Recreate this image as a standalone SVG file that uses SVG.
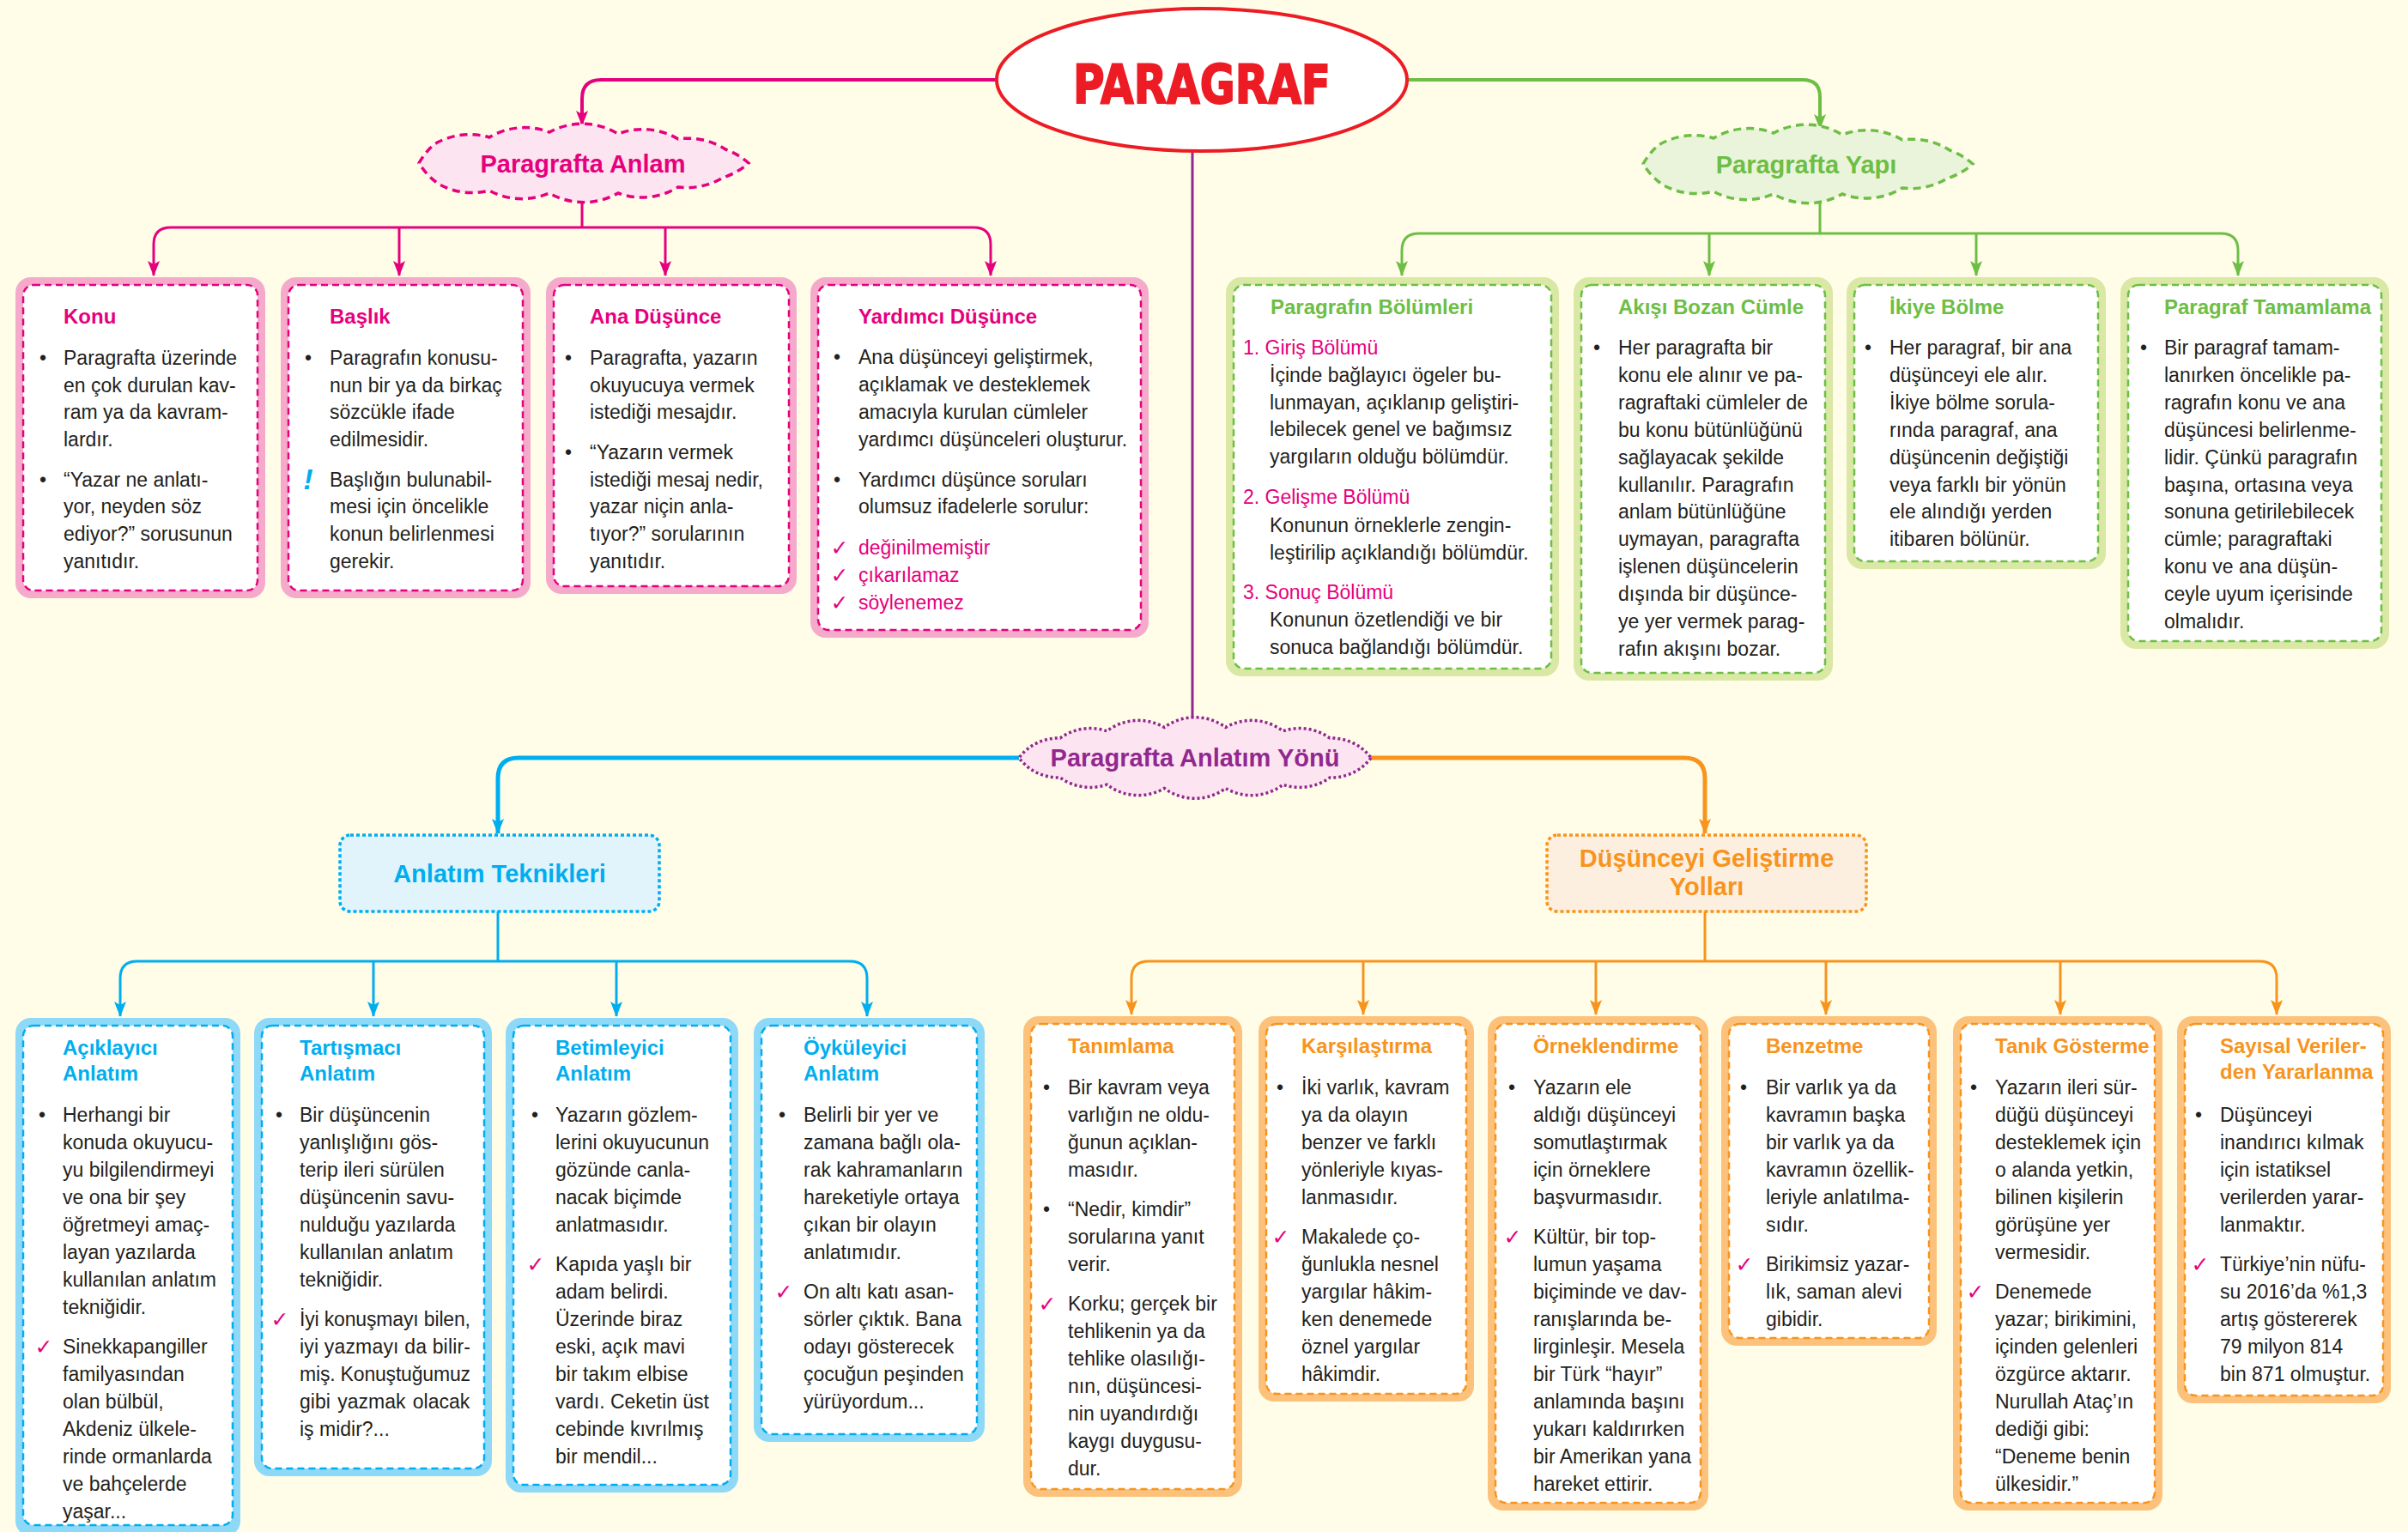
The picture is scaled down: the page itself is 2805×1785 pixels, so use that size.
<svg xmlns="http://www.w3.org/2000/svg" xmlns:xlink="http://www.w3.org/1999/xlink" width="2805" height="1785" viewBox="0 0 2805 1785">
<style>
.t{font-family:"Liberation Sans",Arial,Helvetica,sans-serif;font-size:23px;fill:#231F20}
.h{font-family:"Liberation Sans",Arial,Helvetica,sans-serif;font-size:24px;font-weight:bold}
.bu{text-anchor:middle}
.ck{font-family:"DejaVu Sans",sans-serif;font-size:25px;fill:#E6007E;text-anchor:middle}
.pk{fill:#E6007E}.gr{fill:#6DBE45}.bl{fill:#00AEEF}.or{fill:#F7941D}.pu{fill:#92278F}
.po{fill:#F5AACB}.go{fill:#D9E8A5}.bo{fill:#8ED8F8}.oo{fill:#FCC27C}
.pi,.gi,.bi,.oi{fill:#fff;stroke-width:2.5;stroke-dasharray:8 5}
.pi{stroke:#E6007E}.gi{stroke:#6DBE45}.bi{stroke:#00AEEF}.oi{stroke:#F7941D}
.cl{font-family:"Liberation Sans",Arial,Helvetica,sans-serif;font-size:29px;font-weight:bold;text-anchor:middle}
.c{fill:none}
.cp{stroke:#E6007E}.cg{stroke:#6DBE45}.cb{stroke:#00AEEF}.co{stroke:#F7941D}
</style>
<defs>
<marker id="ap" viewBox="0 0 18 14" markerWidth="18" markerHeight="14" refX="17" refY="7" orient="auto" markerUnits="userSpaceOnUse"><path d="M0,0 L18,7 L0,14 L4,7 Z" fill="#E6007E"/></marker>
<marker id="ag" viewBox="0 0 18 14" markerWidth="18" markerHeight="14" refX="17" refY="7" orient="auto" markerUnits="userSpaceOnUse"><path d="M0,0 L18,7 L0,14 L4,7 Z" fill="#6DBE45"/></marker>
<marker id="ab" viewBox="0 0 18 14" markerWidth="18" markerHeight="14" refX="17" refY="7" orient="auto" markerUnits="userSpaceOnUse"><path d="M0,0 L18,7 L0,14 L4,7 Z" fill="#00AEEF"/></marker>
<marker id="ao" viewBox="0 0 18 14" markerWidth="18" markerHeight="14" refX="17" refY="7" orient="auto" markerUnits="userSpaceOnUse"><path d="M0,0 L18,7 L0,14 L4,7 Z" fill="#F7941D"/></marker>
<path id="cloud1" d="M488,190 A80,80 0 0 1 506,168 A80,80 0 0 1 570,160 A80,80 0 0 1 640,154 A80,80 0 0 1 720,156 A80,80 0 0 1 790,162 A80,80 0 0 1 845,174 A80,80 0 0 1 872,190 A80,80 0 0 1 842,207 A80,80 0 0 1 790,218 A80,80 0 0 1 720,225 A80,80 0 0 1 640,225 A80,80 0 0 1 570,222 A80,80 0 0 1 512,215 A80,80 0 0 1 488,190 Z"/>
</defs>
<rect x="0" y="0" width="2805" height="1785" fill="#FFFDE8"/>

<g id="connectors" class="c">
<path class="cp" stroke-width="4" d="M1161,93 H700 Q678,93 678,115 V146" marker-end="url(#ap)"/>
<path class="cp" stroke-width="3" d="M678,226 V265"/>
<path class="cp" stroke-width="3" d="M678,265 H199 Q179,265 179,285 V321" marker-end="url(#ap)"/>
<path class="cp" stroke-width="3" d="M678,265 H1134 Q1154,265 1154,285 V321" marker-end="url(#ap)"/>
<path class="cp" stroke-width="3" d="M465,265 V321" marker-end="url(#ap)"/>
<path class="cp" stroke-width="3" d="M775,265 V321" marker-end="url(#ap)"/>
<path class="cg" stroke-width="4" d="M1639,93 H2100 Q2120,93 2120,113 V150" marker-end="url(#ag)"/>
<path class="cg" stroke-width="3" d="M2120,228 V272"/>
<path class="cg" stroke-width="3" d="M2120,272 H1653 Q1633,272 1633,292 V321" marker-end="url(#ag)"/>
<path class="cg" stroke-width="3" d="M2120,272 H2587 Q2607,272 2607,292 V321" marker-end="url(#ag)"/>
<path class="cg" stroke-width="3" d="M1991,272 V321" marker-end="url(#ag)"/>
<path class="cg" stroke-width="3" d="M2302,272 V321" marker-end="url(#ag)"/>
<path stroke="#92278F" stroke-width="3" d="M1389,176 V838"/>
<path class="cb" stroke-width="5" d="M1187,883 H604 Q580,883 580,907 V971" marker-end="url(#ab)"/>
<path class="cb" stroke-width="3" d="M580,1062 V1120"/>
<path class="cb" stroke-width="3" d="M580,1120 H160 Q140,1120 140,1140 V1184" marker-end="url(#ab)"/>
<path class="cb" stroke-width="3" d="M580,1120 H990 Q1010,1120 1010,1140 V1184" marker-end="url(#ab)"/>
<path class="cb" stroke-width="3" d="M435,1120 V1184" marker-end="url(#ab)"/>
<path class="cb" stroke-width="3" d="M718,1120 V1184" marker-end="url(#ab)"/>
<path class="co" stroke-width="5" d="M1597,883 H1962 Q1986,883 1986,907 V971" marker-end="url(#ao)"/>
<path class="co" stroke-width="3" d="M1986,1062 V1120"/>
<path class="co" stroke-width="3" d="M1986,1120 H1338 Q1318,1120 1318,1140 V1182" marker-end="url(#ao)"/>
<path class="co" stroke-width="3" d="M1986,1120 H2632 Q2652,1120 2652,1140 V1182" marker-end="url(#ao)"/>
<path class="co" stroke-width="3" d="M1588,1120 V1182" marker-end="url(#ao)"/>
<path class="co" stroke-width="3" d="M1859,1120 V1182" marker-end="url(#ao)"/>
<path class="co" stroke-width="3" d="M2127,1120 V1182" marker-end="url(#ao)"/>
<path class="co" stroke-width="3" d="M2400,1120 V1182" marker-end="url(#ao)"/>
</g>

<g id="paragraf">
<ellipse cx="1400" cy="93" rx="239" ry="83" fill="#fff" stroke="#ED1C24" stroke-width="4"/>
<text x="1400" y="120" text-anchor="middle" font-family="DejaVu Sans, sans-serif" font-size="62" font-weight="900" fill="#ED1C24" stroke="#ED1C24" stroke-width="2" textLength="300" lengthAdjust="spacingAndGlyphs">PARAGRAF</text>
</g>

<g id="paragrafta-anlam">
<use xlink:href="#cloud1" href="#cloud1" fill="#FCE4F0" stroke="#E6007E" stroke-width="3.5" stroke-dasharray="9 6"/>
<text class="cl pk" x="679" y="201">Paragrafta Anlam</text>
</g>

<g id="paragrafta-yapi">
<use xlink:href="#cloud1" href="#cloud1" transform="translate(1426,1)" fill="#E9F4DB" stroke="#6DBE45" stroke-width="3.5" stroke-dasharray="9 6"/>
<text class="cl gr" x="2104" y="202">Paragrafta Yapı</text>
</g>

<g id="anlatim-yonu">
<path d="M1597,883 A60,60 0 0 1 1584.7,895.3 A60,60 0 0 1 1549,906.1 A60,60 0 0 1 1494.5,914.2 A60,60 0 0 1 1427.7,918.5 A60,60 0 0 1 1356.3,918.5 A60,60 0 0 1 1289.5,914.2 A60,60 0 0 1 1235,906.1 A60,60 0 0 1 1199.3,895.3 A60,60 0 0 1 1187,883 A60,60 0 0 1 1199.3,870.7 A60,60 0 0 1 1235,859.9 A60,60 0 0 1 1289.5,851.8 A60,60 0 0 1 1356.3,847.5 A60,60 0 0 1 1427.7,847.5 A60,60 0 0 1 1494.5,851.8 A60,60 0 0 1 1549,859.9 A60,60 0 0 1 1584.7,870.7 A60,60 0 0 1 1597,883 Z" fill="#FCE4F1" stroke="#92278F" stroke-width="3.5" stroke-dasharray="3 3"/>
<text class="cl pu" x="1392" y="893">Paragrafta Anlatım Yönü</text>
</g>

<g id="anlatim-teknikleri">
<rect x="396" y="973" width="372" height="89" rx="12" fill="#E1F4FC" stroke="#00AEEF" stroke-width="3.5" stroke-dasharray="4 3"/>
<text class="cl bl" x="582" y="1028" font-size="28">Anlatım Teknikleri</text>
</g>

<g id="dusunceyi-gelistirme">
<rect x="1802" y="973" width="372" height="89" rx="12" fill="#FDEFE0" stroke="#F7941D" stroke-width="3.5" stroke-dasharray="4 3"/>
<text class="cl or" x="1988" y="1010" font-size="28">Düşünceyi Geliştirme</text>
<text class="cl or" x="1988" y="1043" font-size="28">Yolları</text>
</g>

<!-- Pink boxes -->
<g id="konu">
<rect class="po" x="18" y="323" width="291" height="374" rx="18"/>
<rect class="pi" x="27" y="332" width="273" height="356" rx="12"/>
<text class="h pk" x="74" y="377">Konu</text>
<text class="t bu"><tspan x="50" y="425">•</tspan><tspan x="50" y="567">•</tspan></text>
<text class="t"><tspan x="74" y="425">Paragrafta üzerinde</tspan><tspan x="74" y="457">en çok durulan kav-</tspan><tspan x="74" y="488">ram ya da kavram-</tspan><tspan x="74" y="520">lardır.</tspan><tspan x="74" y="567">“Yazar ne anlatı-</tspan><tspan x="74" y="598">yor, neyden söz</tspan><tspan x="74" y="630">ediyor?” sorusunun</tspan><tspan x="74" y="662">yanıtıdır.</tspan></text>
</g>

<g id="baslik">
<rect class="po" x="327" y="323" width="291" height="374" rx="18"/>
<rect class="pi" x="336" y="332" width="273" height="356" rx="12"/>
<text class="h pk" x="384" y="377">Başlık</text>
<text class="t bu"><tspan x="359" y="425">•</tspan></text>
<text x="359" y="570" text-anchor="middle" font-family="Liberation Sans, Arial, sans-serif" font-size="34" font-weight="bold" font-style="italic" fill="#00AEEF">!</text>
<text class="t"><tspan x="384" y="425">Paragrafın konusu-</tspan><tspan x="384" y="457">nun bir ya da birkaç</tspan><tspan x="384" y="488">sözcükle ifade</tspan><tspan x="384" y="520">edilmesidir.</tspan><tspan x="384" y="567">Başlığın bulunabil-</tspan><tspan x="384" y="598">mesi için öncelikle</tspan><tspan x="384" y="630">konun belirlenmesi</tspan><tspan x="384" y="662">gerekir.</tspan></text>
</g>

<g id="ana-dusunce">
<rect class="po" x="636" y="323" width="292" height="369" rx="18"/>
<rect class="pi" x="645" y="332" width="274" height="351" rx="12"/>
<text class="h pk" x="687" y="377">Ana Düşünce</text>
<text class="t bu"><tspan x="662" y="425">•</tspan><tspan x="662" y="535">•</tspan></text>
<text class="t"><tspan x="687" y="425">Paragrafta, yazarın</tspan><tspan x="687" y="457">okuyucuya vermek</tspan><tspan x="687" y="488">istediği mesajdır.</tspan><tspan x="687" y="535">“Yazarın vermek</tspan><tspan x="687" y="567">istediği mesaj nedir,</tspan><tspan x="687" y="598">yazar niçin anla-</tspan><tspan x="687" y="630">tıyor?” sorularının</tspan><tspan x="687" y="662">yanıtıdır.</tspan></text>
</g>

<g id="yardimci-dusunce">
<rect class="po" x="944" y="323" width="394" height="420" rx="18"/>
<rect class="pi" x="953" y="332" width="376" height="402" rx="12"/>
<text class="h pk" x="1000" y="377">Yardımcı Düşünce</text>
<text class="t bu"><tspan x="975" y="424">•</tspan><tspan x="975" y="567">•</tspan></text>
<text class="t"><tspan x="1000" y="424">Ana düşünceyi geliştirmek,</tspan><tspan x="1000" y="456">açıklamak ve desteklemek</tspan><tspan x="1000" y="488">amacıyla kurulan cümleler</tspan><tspan x="1000" y="520">yardımcı düşünceleri oluşturur.</tspan><tspan x="1000" y="567">Yardımcı düşünce soruları</tspan><tspan x="1000" y="598">olumsuz ifadelerle sorulur:</tspan></text>
<text class="ck"><tspan x="978" y="647">✓</tspan><tspan x="978" y="679">✓</tspan><tspan x="978" y="711">✓</tspan></text>
<text class="t pk"><tspan x="1000" y="646">değinilmemiştir</tspan><tspan x="1000" y="678">çıkarılamaz</tspan><tspan x="1000" y="710">söylenemez</tspan></text>
</g>

<!-- Green boxes -->
<g id="paragrafin-bolumleri">
<rect class="go" x="1428" y="323" width="388" height="465" rx="18"/>
<rect class="gi" x="1437" y="332" width="370" height="447" rx="12"/>
<text class="h gr" x="1480" y="366">Paragrafın Bölümleri</text>
<text class="t pk"><tspan x="1448" y="413">1. Giriş Bölümü</tspan><tspan x="1448" y="587">2. Gelişme Bölümü</tspan><tspan x="1448" y="698">3. Sonuç Bölümü</tspan></text>
<text class="t"><tspan x="1479" y="445">İçinde bağlayıcı ögeler bu-</tspan><tspan x="1479" y="477">lunmayan, açıklanıp geliştiri-</tspan><tspan x="1479" y="508">lebilecek genel ve bağımsız</tspan><tspan x="1479" y="540">yargıların olduğu bölümdür.</tspan><tspan x="1479" y="620">Konunun örneklerle zengin-</tspan><tspan x="1479" y="652">leştirilip açıklandığı bölümdür.</tspan><tspan x="1479" y="730">Konunun özetlendiği ve bir</tspan><tspan x="1479" y="762">sonuca bağlandığı bölümdür.</tspan></text>
</g>

<g id="akisi-bozan-cumle">
<rect class="go" x="1833" y="323" width="302" height="470" rx="18"/>
<rect class="gi" x="1842" y="332" width="284" height="452" rx="12"/>
<text class="h gr" x="1885" y="366">Akışı Bozan Cümle</text>
<text class="t bu"><tspan x="1860" y="413">•</tspan></text>
<text class="t"><tspan x="1885" y="413">Her paragrafta bir</tspan><tspan x="1885" y="445">konu ele alınır ve pa-</tspan><tspan x="1885" y="477">ragraftaki cümleler de</tspan><tspan x="1885" y="509">bu konu bütünlüğünü</tspan><tspan x="1885" y="541">sağlayacak şekilde</tspan><tspan x="1885" y="573">kullanılır. Paragrafın</tspan><tspan x="1885" y="604">anlam bütünlüğüne</tspan><tspan x="1885" y="636">uymayan, paragrafta</tspan><tspan x="1885" y="668">işlenen düşüncelerin</tspan><tspan x="1885" y="700">dışında bir düşünce-</tspan><tspan x="1885" y="732">ye yer vermek parag-</tspan><tspan x="1885" y="764">rafın akışını bozar.</tspan></text>
</g>

<g id="ikiye-bolme">
<rect class="go" x="2151" y="323" width="302" height="340" rx="18"/>
<rect class="gi" x="2160" y="332" width="284" height="322" rx="12"/>
<text class="h gr" x="2201" y="366">İkiye Bölme</text>
<text class="t bu"><tspan x="2176" y="413">•</tspan></text>
<text class="t"><tspan x="2201" y="413">Her paragraf, bir ana</tspan><tspan x="2201" y="445">düşünceyi ele alır.</tspan><tspan x="2201" y="477">İkiye bölme sorula-</tspan><tspan x="2201" y="509">rında paragraf, ana</tspan><tspan x="2201" y="541">düşüncenin değiştiği</tspan><tspan x="2201" y="573">veya farklı bir yönün</tspan><tspan x="2201" y="604">ele alındığı yerden</tspan><tspan x="2201" y="636">itibaren bölünür.</tspan></text>
</g>

<g id="paragraf-tamamlama">
<rect class="go" x="2470" y="323" width="313" height="433" rx="18"/>
<rect class="gi" x="2479" y="332" width="295" height="415" rx="12"/>
<text class="h gr" x="2521" y="366">Paragraf Tamamlama</text>
<text class="t bu"><tspan x="2497" y="413">•</tspan></text>
<text class="t"><tspan x="2521" y="413">Bir paragraf tamam-</tspan><tspan x="2521" y="445">lanırken öncelikle pa-</tspan><tspan x="2521" y="477">ragrafın konu ve ana</tspan><tspan x="2521" y="509">düşüncesi belirlenme-</tspan><tspan x="2521" y="541">lidir. Çünkü paragrafın</tspan><tspan x="2521" y="573">başına, ortasına veya</tspan><tspan x="2521" y="604">sonuna getirilebilecek</tspan><tspan x="2521" y="636">cümle; paragraftaki</tspan><tspan x="2521" y="668">konu ve ana düşün-</tspan><tspan x="2521" y="700">ceyle uyum içerisinde</tspan><tspan x="2521" y="732">olmalıdır.</tspan></text>
</g>

<!-- Blue boxes -->
<g id="aciklayici">
<rect class="bo" x="18" y="1186" width="262" height="604" rx="18"/>
<rect class="bi" x="27" y="1195" width="244" height="582" rx="12"/>
<text class="h bl"><tspan x="73" y="1229">Açıklayıcı</tspan><tspan x="73" y="1259">Anlatım</tspan></text>
<text class="t bu"><tspan x="49" y="1307">•</tspan></text>
<text class="ck"><tspan x="51" y="1578">✓</tspan></text>
<text class="t"><tspan x="73" y="1307">Herhangi bir</tspan><tspan x="73" y="1339">konuda okuyucu-</tspan><tspan x="73" y="1371">yu bilgilendirmeyi</tspan><tspan x="73" y="1403">ve ona bir şey</tspan><tspan x="73" y="1435">öğretmeyi amaç-</tspan><tspan x="73" y="1467">layan yazılarda</tspan><tspan x="73" y="1499">kullanılan anlatım</tspan><tspan x="73" y="1531">tekniğidir.</tspan><tspan x="73" y="1577">Sinekkapangiller</tspan><tspan x="73" y="1609">familyasından</tspan><tspan x="73" y="1641">olan bülbül,</tspan><tspan x="73" y="1673">Akdeniz ülkele-</tspan><tspan x="73" y="1705">rinde ormanlarda</tspan><tspan x="73" y="1737">ve bahçelerde</tspan><tspan x="73" y="1769">yaşar...</tspan></text>
</g>

<g id="tartismaci">
<rect class="bo" x="296" y="1186" width="277" height="534" rx="18"/>
<rect class="bi" x="305" y="1195" width="259" height="516" rx="12"/>
<text class="h bl"><tspan x="349" y="1229">Tartışmacı</tspan><tspan x="349" y="1259">Anlatım</tspan></text>
<text class="t bu"><tspan x="325" y="1307">•</tspan></text>
<text class="ck"><tspan x="326" y="1546">✓</tspan></text>
<text class="t"><tspan x="349" y="1307">Bir düşüncenin</tspan><tspan x="349" y="1339">yanlışlığını gös-</tspan><tspan x="349" y="1371">terip ileri sürülen</tspan><tspan x="349" y="1403">düşüncenin savu-</tspan><tspan x="349" y="1435">nulduğu yazılarda</tspan><tspan x="349" y="1467">kullanılan anlatım</tspan><tspan x="349" y="1499">tekniğidir.</tspan></text>
<text class="t"><tspan x="349" y="1545" textLength="199" lengthAdjust="spacing">İyi konuşmayı bilen,</tspan></text>
<text class="t"><tspan x="349" y="1577" textLength="199" lengthAdjust="spacing">iyi yazmayı da bilir-</tspan></text>
<text class="t"><tspan x="349" y="1609" textLength="199" lengthAdjust="spacing">miş. Konuştuğumuz</tspan></text>
<text class="t" word-spacing="2"><tspan x="349" y="1641">gibi yazmak olacak</tspan></text>
<text class="t"><tspan x="349" y="1673">iş midir?...</tspan></text>
</g>

<g id="betimleyici">
<rect class="bo" x="589" y="1186" width="271" height="553" rx="18"/>
<rect class="bi" x="598" y="1195" width="253" height="535" rx="12"/>
<text class="h bl"><tspan x="647" y="1229">Betimleyici</tspan><tspan x="647" y="1259">Anlatım</tspan></text>
<text class="t bu"><tspan x="623" y="1307">•</tspan></text>
<text class="ck"><tspan x="624" y="1482">✓</tspan></text>
<text class="t"><tspan x="647" y="1307">Yazarın gözlem-</tspan><tspan x="647" y="1339">lerini okuyucunun</tspan><tspan x="647" y="1371">gözünde canla-</tspan><tspan x="647" y="1403">nacak biçimde</tspan><tspan x="647" y="1435">anlatmasıdır.</tspan><tspan x="647" y="1481">Kapıda yaşlı bir</tspan><tspan x="647" y="1513">adam belirdi.</tspan><tspan x="647" y="1545">Üzerinde biraz</tspan><tspan x="647" y="1577">eski, açık mavi</tspan><tspan x="647" y="1609">bir takım elbise</tspan><tspan x="647" y="1641">vardı. Ceketin üst</tspan><tspan x="647" y="1673">cebinde kıvrılmış</tspan><tspan x="647" y="1705">bir mendil...</tspan></text>
</g>

<g id="oykuleyici">
<rect class="bo" x="878" y="1186" width="269" height="494" rx="18"/>
<rect class="bi" x="887" y="1195" width="251" height="476" rx="12"/>
<text class="h bl"><tspan x="936" y="1229">Öyküleyici</tspan><tspan x="936" y="1259">Anlatım</tspan></text>
<text class="t bu"><tspan x="911" y="1307">•</tspan></text>
<text class="ck"><tspan x="913" y="1514">✓</tspan></text>
<text class="t"><tspan x="936" y="1307">Belirli bir yer ve</tspan><tspan x="936" y="1339">zamana bağlı ola-</tspan><tspan x="936" y="1371">rak kahramanların</tspan><tspan x="936" y="1403">hareketiyle ortaya</tspan><tspan x="936" y="1435">çıkan bir olayın</tspan><tspan x="936" y="1467">anlatımıdır.</tspan><tspan x="936" y="1513">On altı katı asan-</tspan><tspan x="936" y="1545">sörler çıktık. Bana</tspan><tspan x="936" y="1577">odayı gösterecek</tspan><tspan x="936" y="1609">çocuğun peşinden</tspan><tspan x="936" y="1641">yürüyordum...</tspan></text>
</g>

<!-- Orange boxes -->
<g id="tanimlama">
<rect class="oo" x="1192" y="1184" width="255" height="560" rx="18"/>
<rect class="oi" x="1201" y="1193" width="237" height="542" rx="12"/>
<text class="h or" x="1244" y="1227">Tanımlama</text>
<text class="t bu"><tspan x="1219" y="1275">•</tspan><tspan x="1219" y="1417">•</tspan></text>
<text class="ck"><tspan x="1220" y="1528">✓</tspan></text>
<text class="t"><tspan x="1244" y="1275">Bir kavram veya</tspan><tspan x="1244" y="1307">varlığın ne oldu-</tspan><tspan x="1244" y="1339">ğunun açıklan-</tspan><tspan x="1244" y="1371">masıdır.</tspan><tspan x="1244" y="1417">“Nedir, kimdir”</tspan><tspan x="1244" y="1449">sorularına yanıt</tspan><tspan x="1244" y="1481">verir.</tspan><tspan x="1244" y="1527">Korku; gerçek bir</tspan><tspan x="1244" y="1559">tehlikenin ya da</tspan><tspan x="1244" y="1591">tehlike olasılığı-</tspan><tspan x="1244" y="1623">nın, düşüncesi-</tspan><tspan x="1244" y="1655">nin uyandırdığı</tspan><tspan x="1244" y="1687">kaygı duygusu-</tspan><tspan x="1244" y="1719">dur.</tspan></text>
</g>

<g id="karsilastirma">
<rect class="oo" x="1466" y="1184" width="251" height="449" rx="18"/>
<rect class="oi" x="1475" y="1193" width="233" height="431" rx="12"/>
<text class="h or" x="1516" y="1227">Karşılaştırma</text>
<text class="t bu"><tspan x="1491" y="1275">•</tspan></text>
<text class="ck"><tspan x="1492" y="1450">✓</tspan></text>
<text class="t"><tspan x="1516" y="1275">İki varlık, kavram</tspan><tspan x="1516" y="1307">ya da olayın</tspan><tspan x="1516" y="1339">benzer ve farklı</tspan><tspan x="1516" y="1371">yönleriyle kıyas-</tspan><tspan x="1516" y="1403">lanmasıdır.</tspan><tspan x="1516" y="1449">Makalede ço-</tspan><tspan x="1516" y="1481">ğunlukla nesnel</tspan><tspan x="1516" y="1513">yargılar hâkim-</tspan><tspan x="1516" y="1545">ken denemede</tspan><tspan x="1516" y="1577">öznel yargılar</tspan><tspan x="1516" y="1609">hâkimdir.</tspan></text>
</g>

<g id="orneklendirme">
<rect class="oo" x="1733" y="1184" width="257" height="576" rx="18"/>
<rect class="oi" x="1742" y="1193" width="239" height="558" rx="12"/>
<text class="h or" x="1786" y="1227">Örneklendirme</text>
<text class="t bu"><tspan x="1761" y="1275">•</tspan></text>
<text class="ck"><tspan x="1762" y="1450">✓</tspan></text>
<text class="t"><tspan x="1786" y="1275">Yazarın ele</tspan><tspan x="1786" y="1307">aldığı düşünceyi</tspan><tspan x="1786" y="1339">somutlaştırmak</tspan><tspan x="1786" y="1371">için örneklere</tspan><tspan x="1786" y="1403">başvurmasıdır.</tspan><tspan x="1786" y="1449">Kültür, bir top-</tspan><tspan x="1786" y="1481">lumun yaşama</tspan><tspan x="1786" y="1513">biçiminde ve dav-</tspan><tspan x="1786" y="1545">ranışlarında be-</tspan><tspan x="1786" y="1577">lirginleşir. Mesela</tspan><tspan x="1786" y="1609">bir Türk “hayır”</tspan><tspan x="1786" y="1641">anlamında başını</tspan><tspan x="1786" y="1673">yukarı kaldırırken</tspan><tspan x="1786" y="1705">bir Amerikan yana</tspan><tspan x="1786" y="1737">hareket ettirir.</tspan></text>
</g>

<g id="benzetme">
<rect class="oo" x="2005" y="1184" width="251" height="384" rx="18"/>
<rect class="oi" x="2014" y="1193" width="233" height="366" rx="12"/>
<text class="h or" x="2057" y="1227">Benzetme</text>
<text class="t bu"><tspan x="2031" y="1275">•</tspan></text>
<text class="ck"><tspan x="2032" y="1482">✓</tspan></text>
<text class="t"><tspan x="2057" y="1275">Bir varlık ya da</tspan><tspan x="2057" y="1307">kavramın başka</tspan><tspan x="2057" y="1339">bir varlık ya da</tspan><tspan x="2057" y="1371">kavramın özellik-</tspan><tspan x="2057" y="1403">leriyle anlatılma-</tspan><tspan x="2057" y="1435">sıdır.</tspan><tspan x="2057" y="1481">Birikimsiz yazar-</tspan><tspan x="2057" y="1513">lık, saman alevi</tspan><tspan x="2057" y="1545">gibidir.</tspan></text>
</g>

<g id="tanik-gosterme">
<rect class="oo" x="2275" y="1184" width="244" height="576" rx="18"/>
<rect class="oi" x="2284" y="1193" width="226" height="558" rx="12"/>
<text class="h or" x="2324" y="1227">Tanık Gösterme</text>
<text class="t bu"><tspan x="2299" y="1275">•</tspan></text>
<text class="ck"><tspan x="2301" y="1514">✓</tspan></text>
<text class="t"><tspan x="2324" y="1275">Yazarın ileri sür-</tspan><tspan x="2324" y="1307">düğü düşünceyi</tspan><tspan x="2324" y="1339">desteklemek için</tspan><tspan x="2324" y="1371">o alanda yetkin,</tspan><tspan x="2324" y="1403">bilinen kişilerin</tspan><tspan x="2324" y="1435">görüşüne yer</tspan><tspan x="2324" y="1467">vermesidir.</tspan><tspan x="2324" y="1513">Denemede</tspan><tspan x="2324" y="1545">yazar; birikimini,</tspan><tspan x="2324" y="1577">içinden gelenleri</tspan><tspan x="2324" y="1609">özgürce aktarır.</tspan><tspan x="2324" y="1641">Nurullah Ataç’ın</tspan><tspan x="2324" y="1673">dediği gibi:</tspan><tspan x="2324" y="1705">“Deneme benin</tspan><tspan x="2324" y="1737">ülkesidir.”</tspan></text>
</g>

<g id="sayisal-veriler">
<rect class="oo" x="2536" y="1184" width="249" height="451" rx="18"/>
<rect class="oi" x="2545" y="1193" width="231" height="433" rx="12"/>
<text class="h or"><tspan x="2586" y="1227">Sayısal Veriler-</tspan><tspan x="2586" y="1257">den Yararlanma</tspan></text>
<text class="t bu"><tspan x="2561" y="1307">•</tspan></text>
<text class="ck"><tspan x="2563" y="1482">✓</tspan></text>
<text class="t"><tspan x="2586" y="1307">Düşünceyi</tspan><tspan x="2586" y="1339">inandırıcı kılmak</tspan><tspan x="2586" y="1371">için istatiksel</tspan><tspan x="2586" y="1403">verilerden yarar-</tspan><tspan x="2586" y="1435">lanmaktır.</tspan><tspan x="2586" y="1481">Türkiye’nin nüfu-</tspan><tspan x="2586" y="1513">su 2016’da %1,3</tspan><tspan x="2586" y="1545">artış göstererek</tspan><tspan x="2586" y="1577">79 milyon 814</tspan><tspan x="2586" y="1609">bin 871 olmuştur.</tspan></text>
</g>
</svg>
